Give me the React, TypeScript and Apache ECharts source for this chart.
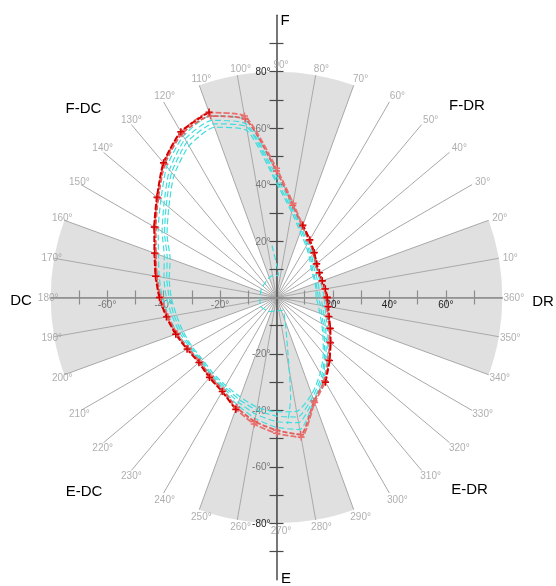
import React, { useEffect, useRef } from "react";
import * as echarts from "echarts";

// ---- data ----
const angleTicks = [0, 10, 20, 30, 40, 50, 60, 70, 80, 90, 100, 110, 120, 130, 140, 150, 160, 170, 180, 190, 200, 210, 220, 230, 240, 250, 260, 270, 280, 290, 300, 310, 320, 330, 340, 350];
const shadedSectors = [[-20, 20], [70, 110], [160, 200], [250, 290]];
const xTickValues = [-70, -60, -50, -40, -30, -20, -10, 10, 20, 30, 40, 50, 60, 70];
const xLabelValues = [-60, -40, -20, 20, 40, 60];
const yTickValues = [-90, -80, -70, -60, -50, -40, -30, -20, -10, 10, 20, 30, 40, 50, 60, 70, 80, 90];
const yLabelValues = [-80, -60, -40, -20, 20, 40, 60, 80];

// radius (degrees of motion) at each angle tick
const redOuter = [17.9, 17.5, 17.2, 17.5, 18.5, 20.7, 23.5, 27.2, 33.9, 45.8, 65.3, 69.7, 67.6, 62.1, 55.1, 49.8, 45.8, 43.3, 41.3, 39.4, 37.8, 36.4, 35.7, 36.8, 38.3, 42.0, 45.5, 48.1, 50.3, 39.6, 34.5, 29.0, 24.8, 21.9, 19.6, 18.5];
const redInner = [17.6, 17.3, 17.0, 17.3, 18.3, 20.4, 23.2, 26.8, 33.2, 44.8, 64.2, 68.4, 67.0, 61.6, 54.7, 49.4, 45.5, 43.0, 41.0, 39.1, 37.5, 36.1, 35.4, 36.4, 37.9, 41.4, 44.6, 47.0, 49.3, 39.0, 34.0, 28.6, 24.5, 21.6, 19.3, 18.2];
const darkRed = [18.0, 17.6, 17.3, 17.6, 18.6, 20.8, 23.6, 27.3, null, null, null, 69.9, 67.8, 62.3, 55.3, 50.0, 46.0, 43.5, 41.5, 39.6, 38.0, 36.6, 35.9, 37.0, 38.5, 42.2, null, null, null, null, 34.7, 29.2, 25.0, 22.0, 19.8, 18.6];
const cyan1 = [16.8, 16.6, 16.5, 16.9, 17.9, 20.2, 23.0, 26.9, 33.5, 44.5, 64.0, 68.5, 66.0, 60.5, 53.5, 48.4, 44.5, 42.2, 40.4, 38.7, 37.3, 36.0, 35.4, 36.4, 37.8, 40.5, 43.5, 46.0, 47.5, 39.0, 33.5, 28.0, 23.8, 20.8, 18.6, 17.5];
const cyan2 = [15.5, 15.4, 15.6, 16.2, 17.2, 19.4, 22.3, 26.0, 32.5, 43.0, 62.5, 66.8, 64.8, 59.0, 52.0, 46.8, 42.3, 40.5, 39.0, 37.6, 36.5, 35.5, 35.0, 36.0, 37.2, 39.5, 42.0, 44.0, 45.0, 38.5, 32.8, 27.2, 23.0, 20.0, 17.8, 16.6];
const cyan3 = [14.8, 14.7, 14.9, 15.4, 16.5, 18.8, 21.6, 25.4, 31.6, 41.5, 61.5, 65.5, 63.5, 57.8, 51.0, 45.8, 41.2, 39.5, 38.0, 36.8, 35.8, 35.0, 34.6, 35.6, 36.6, 38.5, 40.5, 42.0, 43.0, 37.5, 32.0, 26.5, 22.2, 19.2, 17.0, 15.8];
const cyan4 = [14.0, 14.2, 14.6, 15.0, 16.0, 18.2, 21.0, 24.6, 30.8, 40.5, 60.0, 64.2, 62.0, 56.5, 49.8, 44.8, 40.1, 38.6, 37.3, 36.0, 35.2, 34.6, 34.2, 35.0, 36.0, 37.5, 39.5, 40.5, 41.0, 36.5, 31.0, 25.8, 21.5, 18.5, 16.3, 15.0];
// stray trace near the centre: [radius, angle]
const cyanStray = [[18.5, 95], [8, 85], [7.8, 105], [6.2, 150], [6.5, 205], [5.5, 245], [5, 295], [19, 282], [36, 278], [45, 275]];

const R_MAX = 80;

// ---- helpers ----
const FONT = 'Arial, "Liberation Sans", sans-serif';
const CENTER = [276.5, 297.5];
const RADIUS_PX = 225.8;
const GREY = "#e0e0e1";
const CLEAR = "rgba(0,0,0,0)";
const PLUS = "path://M4,0H6V4H10V6H6V10H4V6H0V4H4Z";

function closedLoop(values: (number | null)[]) {
  const pts = values.map((r, i) => [r == null ? "-" : r, angleTicks[i]]);
  pts.push([values[0] == null ? "-" : values[0], 360]);
  return pts;
}

function isShaded(a: number) {
  return shadedSectors.some(([s, e]) => (((a - s) % 360) + 360) % 360 < e - s);
}

export default function App() {
  const ref = useRef<HTMLDivElement>(null);

  useEffect(() => {
    if (!ref.current) return;
    const chart = echarts.init(ref.current, null, { renderer: "svg", width: 556, height: 586 });

    const sectorColors = angleTicks.map((a) => (isShaded(a + 5) ? GREY : CLEAR));

    const cyanLine = (data: any[], name: string) => ({
      type: "line",
      name,
      coordinateSystem: "polar",
      polarIndex: 1,
      data,
      smooth: 0.2,
      symbol: "none",
      z: 3,
      lineStyle: { color: "#3fdede", width: 1.2, type: [6, 3] },
    });

    const redLine = (data: any[], name: string, color: string, width: number, dash: number[]) => ({
      type: "line",
      name,
      coordinateSystem: "polar",
      polarIndex: 1,
      data,
      smooth: 0.2,
      symbol: PLUS,
      symbolSize: 7,
      itemStyle: { color },
      z: 4,
      lineStyle: { color, width, type: dash },
    });

    const hiddenAxis = (gridIndex: number, min: number, max: number) => ({
      type: "value",
      gridIndex,
      min,
      max,
      show: false,
      axisLine: { show: false, onZero: false },
      splitLine: { show: false },
    });

    const xCommon = {
      type: "value",
      gridIndex: 0,
      min: -80,
      max: 80,
      position: "bottom",
      splitLine: { show: false },
      z: 2,
    };
    const yCommon = {
      type: "value",
      gridIndex: 1,
      min: -100,
      max: 100,
      position: "left",
      splitLine: { show: false },
      z: 2,
    };
    const xLine = { color: "#8c8c8c", width: 1.2 };
    const yLine = { color: "#4a4a4a", width: 1.2 };

    const option: any = {
      animation: false,
      grid: [
        // bottom edge sits on the centre: carries the horizontal axis
        { left: 50.7, top: 15.2, width: 451.6, height: 282.3, containLabel: false, outerBoundsMode: "none" },
        // left edge sits on the centre: carries the vertical axis
        { left: 276.5, top: 15.2, width: 225.8, height: 564.6, containLabel: false, outerBoundsMode: "none" },
      ],
      xAxis: [
        {
          ...xCommon,
          axisLine: { onZero: false, lineStyle: { color: "#8c8c8c", width: 1.5 } },
          axisTick: { show: true, customValues: xTickValues, length: 7, inside: false, lineStyle: xLine },
          axisLabel: {
            customValues: xLabelValues,
            formatter: (v: number) => v + "°",
            margin: 2,
            fontSize: 10,
            fontFamily: FONT,
            color: (v: any) => (Number(v) > 0 ? "#222" : "#777"),
          },
        },
        {
          ...xCommon,
          axisLine: { show: false, onZero: false },
          axisTick: { show: true, customValues: xTickValues, length: 7, inside: true, lineStyle: xLine },
          axisLabel: { show: false },
        },
        hiddenAxis(1, -80, 80),
      ],
      yAxis: [
        {
          ...yCommon,
          axisLine: { onZero: false, lineStyle: { color: "#4a4a4a", width: 1.5 } },
          axisTick: { show: true, customValues: yTickValues, length: 7, inside: false, lineStyle: yLine },
          axisLabel: {
            customValues: yLabelValues,
            formatter: (v: number) => v + "°",
            margin: 6,
            fontSize: 10,
            fontFamily: FONT,
            color: (v: any) => (Math.abs(Number(v)) === 80 ? "#222" : "#777"),
          },
        },
        {
          ...yCommon,
          axisLine: { show: false, onZero: false },
          axisTick: { show: true, customValues: yTickValues, length: 7, inside: true, lineStyle: yLine },
          axisLabel: { show: false },
        },
        hiddenAxis(0, 0, 100),
      ],
      polar: [
        { center: CENTER, radius: RADIUS_PX },
        { center: CENTER, radius: RADIUS_PX },
      ],
      angleAxis: [
        {
          polarIndex: 0,
          type: "value",
          min: 0,
          max: 360,
          interval: 10,
          startAngle: 0,
          clockwise: false,
          axisLine: { show: false },
          axisTick: { show: false },
          axisLabel: { show: false },
          splitLine: { show: false },
          splitArea: { show: true, areaStyle: { color: sectorColors } },
          z: 0,
        },
        {
          polarIndex: 1,
          type: "value",
          min: 0,
          max: 360,
          interval: 10,
          startAngle: 0,
          clockwise: false,
          axisLine: { show: false },
          axisTick: { show: false },
          axisLabel: { show: false },
          splitLine: { show: true, lineStyle: { color: "#a8a8a8", width: 1 } },
          splitArea: { show: false },
          z: 1,
        },
      ],
      radiusAxis: [
        { polarIndex: 0, type: "value", min: 0, max: R_MAX, show: false },
        { polarIndex: 1, type: "value", min: 0, max: R_MAX, show: false },
      ],
      graphic: [
        ["F", 285, 19],
        ["E", 286, 577],
        ["DC", 21, 299.5],
        ["DR", 543, 300.5],
        ["F-DC", 83.5, 107.5],
        ["F-DR", 467, 104],
        ["E-DC", 84, 490],
        ["E-DR", 469.5, 488.5],
      ].map(([t, x, y]) => ({
        type: "text",
        x,
        y,
        z: 10,
        style: { text: t, fill: "#000", font: `15px ${FONT}`, textAlign: "center", textVerticalAlign: "middle" },
      })),
      series: [
        {
          type: "scatter",
          coordinateSystem: "polar",
          polarIndex: 1,
          symbol: "circle",
          symbolSize: 1,
          itemStyle: { color: CLEAR },
          z: 2,
          silent: true,
          label: {
            show: true,
            position: "inside",
            align: "center",
            verticalAlign: "middle",
            fontSize: 10,
            fontFamily: FONT,
            color: "#9a9a9a",
            formatter: (p: any) => (p.value[1] === 0 ? 360 : p.value[1]) + "°",
          },
          data: angleTicks.map((a) => {
            const t = (a * Math.PI) / 180;
            return { value: [R_MAX, a], label: { offset: [4.5 + 7 * Math.cos(t), -7 * Math.sin(t)] } };
          }),
        },
        cyanLine(closedLoop(cyan1), "c1"),
        cyanLine(closedLoop(cyan2), "c2"),
        cyanLine(closedLoop(cyan3), "c3"),
        cyanLine(closedLoop(cyan4), "c4"),
        cyanLine(cyanStray, "c5"),
        redLine(closedLoop(redInner), "r2", "#e35d5d", 1.8, [5, 2]),
        redLine(closedLoop(redOuter), "r1", "#e8706e", 1.8, [6, 2]),
        redLine(closedLoop(darkRed), "r0", "#d40000", 2, [6, 2]),
      ],
    };

    chart.setOption(option);
    return () => chart.dispose();
  }, []);

  return <div ref={ref} style={{ position: "fixed", left: 0, top: 0, width: 556, height: 586 }} />;
}
